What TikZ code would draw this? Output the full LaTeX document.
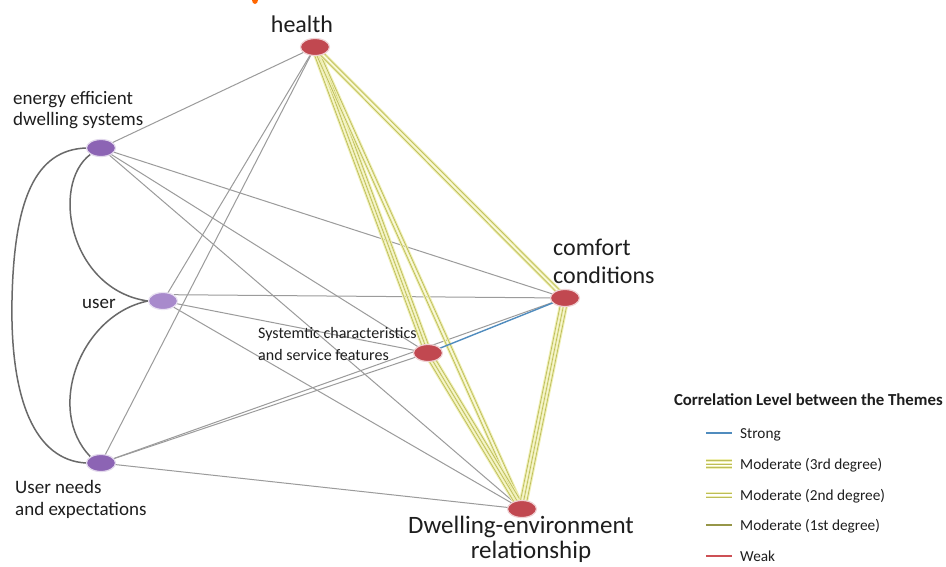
\documentclass[tikz,border=0pt]{standalone}
\usepackage{fontspec}
\setmainfont{Carlito}
\usetikzlibrary{calc,backgrounds,shapes.geometric}
\definecolor{nodered}{RGB}{193,72,80}
\definecolor{nodepurple}{RGB}{140,100,180}
\definecolor{userpurple}{RGB}{168,138,204}
\definecolor{edgegray}{RGB}{155,155,155}
\definecolor{curvegray}{RGB}{105,105,105}
\definecolor{ypale}{RGB}{240,240,180}
\definecolor{yolive}{RGB}{188,188,90}
\definecolor{strongblue}{RGB}{80,140,190}
\definecolor{weakred}{RGB}{205,80,85}
\definecolor{txt}{RGB}{30,30,30}
\tikzset{
 theme/.style={ellipse, minimum width=29pt, minimum height=17pt, inner sep=0pt, fill=#1, draw=white!75!#1, line width=1.2pt},
 lbl/.style={inner sep=0pt, text=txt},
 thinedge/.style={draw=edgegray, line width=1pt},
 curveedge/.style={draw=curvegray, line width=1.5pt},
 palestrand/.style={draw=ypale, line width=2.8pt},
 olivestrand/.style={draw=yolive, line width=0.7pt},
 strongedge/.style={draw=strongblue, line width=1.4pt},
 legtext/.style={lbl, anchor=base west, font=\fontsize{15.3}{18}\selectfont},
}
\newcommand\yband[3]{%
 \foreach \off in {#3}{\path[palestrand] ($(#1.center)!\off pt!90:(#2.center)$) -- ($(#2.center)!\off pt!-90:(#1.center)$);}%
 \foreach \off in {#3}{\path[olivestrand] ($(#1.center)!\off pt!90:(#2.center)$) -- ($(#2.center)!\off pt!-90:(#1.center)$);}%
}
\begin{document}
\begin{tikzpicture}[x=1pt,y=-1pt]
\useasboundingbox (0,0) rectangle (946,566);

% theme nodes
\node[theme=nodered] (H) at (315,47) {};
\node[theme=nodepurple] (E) at (101,148) {};
\node[theme=userpurple] (U) at (163,301) {};
\node[theme=nodepurple] (N) at (101,463) {};
\node[theme=nodered] (C) at (565,298) {};
\node[theme=nodered] (S) at (428,353) {};
\node[theme=nodered] (D) at (522,509) {};

\begin{pgfonlayer}{background}
\fill[white] (0,0) rectangle (946,566);
\fill[orange!80!red] (255,0) ellipse (3pt and 4pt);
% weak/plain links
\draw[thinedge] (H.center) -- (E.center);
\draw[thinedge] (H.center) -- (U.center);
\draw[thinedge] (H.center) -- (N.center);
\draw[thinedge] (E.center) -- (C.center);
\draw[thinedge] (E.center) -- (S.center);
\draw[thinedge] (E.center) -- (D.center);
\draw[thinedge] (U.30) -- (C.center);
\draw[thinedge] (U.center) -- (S.center);
\draw[thinedge] (U.center) -- (D.center);
\draw[thinedge] (N.center) -- (S.center);
\draw[thinedge] (N.center) -- (C.center);
\draw[thinedge] (N.center) -- (D.center);
% moderate links
\yband{H}{S}{-3.2,0,3.2}
\yband{H}{D}{-1.8,1.8}
\yband{H}{C}{-1.8,1.8}
\yband{S}{D}{-3.2,0,3.2}
\yband{C}{D}{-3.2,0,3.2}
% strong link
\draw[strongedge] (S.center) -- (C.center);
% curved links
\draw[curveedge] (E.west) .. controls (35,150) and (14,200) .. (12,300) .. controls (10,400) and (35,460) .. (N.west);
\draw[curveedge] (E.south west) .. controls (50,185) and (70,290) .. (U.west);
\draw[curveedge] (U.west) .. controls (80,315) and (45,410) .. (N.north west);
\end{pgfonlayer}

% labels
\node[lbl, anchor=base, font=\fontsize{24}{28}\selectfont] (Hl) at (302,32) {health};
\node[lbl, anchor=base west, font=\fontsize{19}{21}\selectfont] (El1) at (13,104) {energy efficient};
\node[lbl, anchor=base west, font=\fontsize{19}{21}\selectfont] (El2) at (13,125) {dwelling systems};
\node[lbl, anchor=base west, font=\fontsize{19}{21}\selectfont] (Ul) at (82,308) {user};
\node[lbl, anchor=base west, font=\fontsize{19}{21}\selectfont] (Nl1) at (15,493) {User needs};
\node[lbl, anchor=base west, font=\fontsize{19}{21}\selectfont] (Nl2) at (15,515) {and expectations};
\node[lbl, anchor=base west, font=\fontsize{24}{28}\selectfont] (Cl1) at (553,255) {comfort};
\node[lbl, anchor=base west, font=\fontsize{24}{28}\selectfont] (Cl2) at (553,283) {conditions};
\node[lbl, anchor=base west, font=\fontsize{16}{19}\selectfont] (Sl1) at (258,338) {Systemtic characteristics};
\node[lbl, anchor=base west, font=\fontsize{16}{19}\selectfont] (Sl2) at (258,360) {and service features};
\node[lbl, anchor=base, font=\fontsize{25}{29}\selectfont] (Dl1) at (521,533) {Dwelling-environment};
\node[lbl, anchor=base, font=\fontsize{25}{29}\selectfont] (Dl2) at (531,558) {relationship};

% legend
\node[lbl, anchor=base east, font=\fontsize{16.8}{20}\selectfont\bfseries] (LT) at (943,405) {Correlation Level between the Themes};
\draw[strongedge, line width=1.2pt] (706,433) -- (732,433);
\foreach \dy in {-3.5,0,3.5} \draw[palestrand, line width=2.6pt] (706,464+\dy) -- (732,464+\dy);
\foreach \dy in {-3.5,0,3.5} \draw[olivestrand] (706,464+\dy) -- (732,464+\dy);
\foreach \dy in {-2,2} \draw[palestrand, line width=2.6pt] (706,495+\dy) -- (732,495+\dy);
\foreach \dy in {-2,2} \draw[olivestrand] (706,495+\dy) -- (732,495+\dy);
\draw[draw=yolive!80!black, line width=1.4pt] (706,525) -- (732,525);
\draw[draw=weakred, line width=1.4pt] (706,556) -- (732,556);
\node[legtext] (L1) at (740,438) {Strong};
\node[legtext] (L2) at (740,469) {Moderate (3rd degree)};
\node[legtext] (L3) at (740,500) {Moderate (2nd degree)};
\node[legtext] (L4) at (740,530) {Moderate (1st degree)};
\node[legtext] (L5) at (740,561) {Weak};
\end{tikzpicture}
\end{document}
